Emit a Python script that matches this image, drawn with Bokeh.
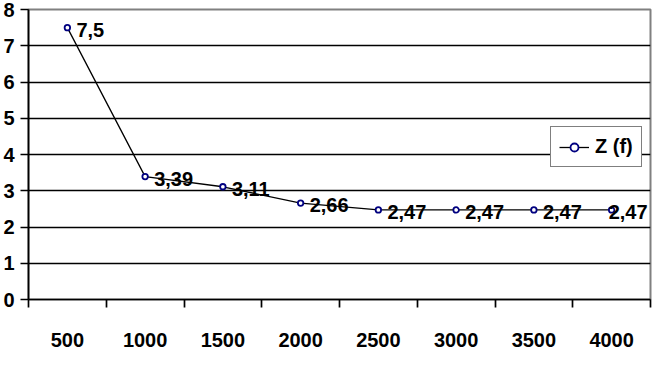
from bokeh.plotting import figure
from bokeh.models import Range1d, FixedTicker, ColumnDataSource, Legend, LegendItem, LabelSet
from bokeh.core.properties import value
from bokeh.embed import file_html
from bokeh.resources import INLINE

categories = ["500", "1000", "1500", "2000", "2500", "3000", "3500", "4000"]
z_values = [7.5, 3.39, 3.11, 2.66, 2.47, 2.47, 2.47, 2.47]
y_ticks = [0, 1, 2, 3, 4, 5, 6, 7, 8]
series_name = "Z (f)"

FONT = "Liberation Sans"
FS = "20px"
n = len(categories)
xs = [i + 0.5 for i in range(n)]
labels = [str(v).replace(".", ",") for v in z_values]
# label offsets: right of the point, except the last which is pulled back to stay inside the plot area
dx = [9] * (n - 1) + [-3]
src = ColumnDataSource(dict(x=xs, y=z_values, lab=labels, dx=dx))

p = figure(width=652, height=349, output_backend="svg", toolbar_location=None,
           x_range=Range1d(0, n), y_range=Range1d(0, 8),
           min_border_left=10, min_border_right=2, min_border_top=9, min_border_bottom=4)
p.background_fill_color = "white"
p.border_fill_color = "white"
p.outline_line_color = "#808080"
p.outline_line_width = 2

# y axis
ya = p.yaxis[0]
ya.ticker = FixedTicker(ticks=y_ticks)
ya.major_tick_out = 8
ya.major_tick_in = 0
ya.minor_tick_out = 0
ya.minor_tick_in = 0
ya.major_tick_line_color = "black"
ya.major_tick_line_width = 1.4
ya.axis_line_color = "black"
ya.axis_line_width = 1.7
ya.major_label_text_font = FONT
ya.major_label_text_font_style = "bold"
ya.major_label_text_font_size = FS
ya.major_label_text_color = "black"
ya.major_label_standoff = 6

# x axis
xa = p.xaxis[0]
xa.ticker = FixedTicker(ticks=xs, minor_ticks=list(range(n + 1)))
xa.major_label_overrides = {x: c for x, c in zip(xs, categories)}
xa.major_tick_out = 0
xa.major_tick_in = 0
xa.major_tick_line_color = None
xa.minor_tick_out = 8
xa.minor_tick_in = 0
xa.minor_tick_line_color = "black"
xa.minor_tick_line_width = 1.7
xa.axis_line_color = "black"
xa.axis_line_width = 1.7
xa.major_label_text_font = FONT
xa.major_label_text_font_style = "bold"
xa.major_label_text_font_size = FS
xa.major_label_text_color = "black"
xa.major_label_standoff = 25

p.xgrid.visible = False
p.ygrid.ticker = FixedTicker(ticks=y_ticks[1:-1])
p.ygrid.grid_line_color = "black"
p.ygrid.grid_line_width = 1.4

ln = p.line("x", "y", source=src, line_color="black", line_width=1.3)
sc = p.scatter("x", "y", source=src, size=5.5, marker="circle",
               line_color="#000080", fill_color="white", line_width=1.8)

lbls = LabelSet(x="x", y="y", text="lab", source=src, x_offset="dx", y_offset=-2,
                text_font=value(FONT), text_font_style="bold", text_font_size=value(FS),
                text_color="black", text_align="left", text_baseline="middle")
p.add_layout(lbls)

legend = Legend(items=[LegendItem(label=series_name, renderers=[ln, sc])],
                location=(522, 132))
legend.label_text_font = FONT
legend.label_text_font_style = "bold"
legend.label_text_font_size = FS
legend.label_text_color = "black"
legend.glyph_width = 30
legend.glyph_height = 20
legend.label_standoff = 6
legend.padding = 8
legend.margin = 0
legend.border_line_color = "black"
legend.border_line_width = 1.7
legend.background_fill_color = "white"
legend.background_fill_alpha = 1
p.add_layout(legend, "center")

open("out.html", "w").write(file_html(p, INLINE))
